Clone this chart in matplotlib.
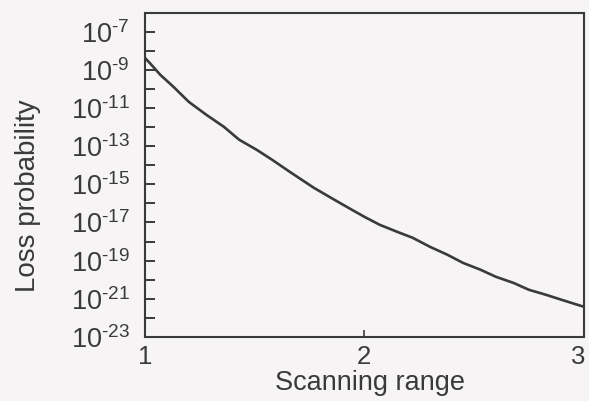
"""Loss probability vs scanning range, log-scale line plot."""
import matplotlib
matplotlib.use("Agg")  # noqa: E402
import matplotlib.pyplot as plt
import matplotlib.transforms as mtransforms
import numpy as np
from matplotlib.ticker import FixedLocator, FixedFormatter

# values (x, exponent of loss probability)
scan_range = [1.0, 1.03, 1.07, 1.13, 1.2, 1.28, 1.36, 1.43, 1.51, 1.58,
              1.66, 1.77, 1.84, 1.92, 2.0, 2.07, 2.15, 2.22, 2.3, 2.38,
              2.45, 2.53, 2.6, 2.68, 2.75, 2.83, 2.9, 3.0]
loss_exp = [-8.36, -8.73, -9.25, -9.88, -10.67, -11.35, -11.98, -12.66,
            -13.19, -13.71, -14.34, -15.18, -15.65, -16.18, -16.70, -17.12,
            -17.49, -17.80, -18.28, -18.70, -19.12, -19.48, -19.85, -20.17,
            -20.53, -20.80, -21.06, -21.42]
ytick_exps = [-7, -9, -11, -13, -15, -17, -19, -21, -23]
xtick_vals = [1, 2, 3]

loss_prob = 10.0 ** np.array(loss_exp)

plt.rcParams["font.family"] = ["Liberation Sans", "DejaVu Sans"]
plt.rcParams["mathtext.fontset"] = "custom"
plt.rcParams["mathtext.rm"] = "Liberation Sans"
plt.rcParams["mathtext.it"] = "Liberation Sans"
plt.rcParams["mathtext.default"] = "rm"

ink = "#3a3a3a"
bg = "#f6f4f5"

fig = plt.figure(figsize=(5.89, 4.01), dpi=100, facecolor=bg)
ax = fig.add_axes([0.246, 0.16, 0.745, 0.808], facecolor=bg)

ax.plot(scan_range, loss_prob, color=ink, linewidth=1.9)
ax.set_yscale("log")
ax.set_xlim(1, 3)
ax.set_ylim(1e-23, 1e-6)

# every decade gets a tick, only odd exponents are labelled (hyphen, not minus)
ax.yaxis.set_major_locator(FixedLocator([10.0 ** e for e in ytick_exps]))
ax.yaxis.set_major_formatter(
    FixedFormatter([f"$10^{{\\text{{{e}}}}}$" for e in ytick_exps]))
ax.yaxis.set_minor_locator(FixedLocator([10.0 ** e for e in range(-22, -6, 2)]))
ax.yaxis.set_minor_formatter(FixedFormatter([""] * 8))
ax.tick_params(axis="y", which="both", direction="in", length=7.5, width=1.4,
               color=ink, labelsize=19.5, labelcolor=ink, pad=11)

ax.set_xticks(xtick_vals)
ax.set_xticklabels([str(v) for v in xtick_vals])
ax.tick_params(axis="x", direction="in", length=5, width=1.2, color=ink,
               labelsize=18.5, labelcolor=ink, pad=6)

for sp in ax.spines.values():
    sp.set_color(ink)
    sp.set_linewidth(1.5)

ax.set_xlabel("Scanning range", fontsize=19.5, color=ink, va="baseline")
ax.xaxis.set_label_coords(0.513, -0.164)
ax.set_ylabel("Loss probability", fontsize=20, color=ink)
ax.yaxis.set_label_coords(-0.237, 0.435)

fig.canvas.draw()
# nudge the "3" left a little so it stays inside the canvas
last = ax.get_xticklabels()[-1]
last.set_transform(last.get_transform() +
                   mtransforms.ScaledTranslation(-4 / 72, 0, fig.dpi_scale_trans))

fig.savefig("out.png", dpi=100, facecolor=bg)
plt.close(fig)
